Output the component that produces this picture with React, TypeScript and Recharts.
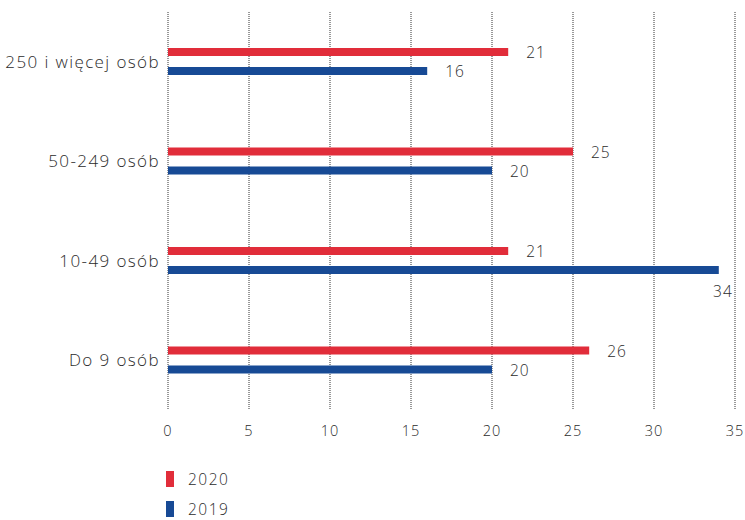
import { Bar, BarChart, CartesianGrid, LabelList, XAxis, YAxis } from "recharts";

const categories = ["250 i więcej osób", "50-249 osób", "10-49 osób", "Do 9 osób"];
const values2020 = [21, 25, 21, 26];
const values2019 = [16, 20, 34, 20];
const xTicks = [0, 5, 10, 15, 20, 25, 30, 35];

const RED = "#e12d3a";
const BLUE = "#174a95";
const TEXT = "#2b2b2b";
const FONT = "'Open Sans', 'Noto Sans', sans-serif";

const data = categories.map((name, i) => ({
  name,
  y2020: values2020[i],
  y2019: values2019[i],
}));

const PLOT_RIGHT = 735;

const labelStyle = { fill: TEXT, fontSize: 15.5, fontWeight: 300, fontFamily: FONT, letterSpacing: 1 };

// value label right of the bar, dropped below the end if it would run off the plot
const renderLabel = (props: any) => {
  const { x, y, width, height, value } = props;
  const endX = x + width;
  const midY = y + height / 2;
  if (endX + 15 + 22 > PLOT_RIGHT) {
    return (
      <text x={endX + 14} y={midY + 21} textAnchor="end" dominantBaseline="central" {...labelStyle}>
        {value}
      </text>
    );
  }
  return (
    <text x={endX + 18} y={midY} textAnchor="start" dominantBaseline="central" {...labelStyle}>
      {value}
    </text>
  );
};

const legendItems = [
  { label: "2020", color: RED },
  { label: "2019", color: BLUE },
];

const App = () => {
  return (
    <div style={{ position: "relative", width: 745, height: 520, overflow: "hidden", fontFamily: FONT }}>
      <style>{"body { margin: 0; }"}</style>
      <BarChart
        width={745}
        height={453}
        data={data}
        layout="vertical"
        margin={{ top: 12, right: 10, left: 0, bottom: 13 }}
        barSize={8}
        barGap={11}
      >
        <CartesianGrid horizontal={false} stroke="#333" strokeDasharray="1 1" />
        <XAxis
          type="number"
          domain={[0, 35]}
          ticks={xTicks}
          interval={0}
          axisLine={false}
          tickLine={false}
          tickMargin={10}
          tick={{ fill: TEXT, fontSize: 14.5, fontWeight: 300, fontFamily: FONT, letterSpacing: 1 }}
        />
        <YAxis
          type="category"
          dataKey="name"
          width={168}
          axisLine={false}
          tickLine={false}
          tick={{ fill: TEXT, fontSize: 17, fontWeight: 300, fontFamily: FONT, letterSpacing: 1.4 }}
        />
        <Bar dataKey="y2020" fill={RED} isAnimationActive={false}>
          <LabelList dataKey="y2020" content={renderLabel} />
        </Bar>
        <Bar dataKey="y2019" fill={BLUE} isAnimationActive={false}>
          <LabelList dataKey="y2019" content={renderLabel} />
        </Bar>
      </BarChart>
      <div style={{ position: "absolute", left: 166, top: 471 }}>
        {legendItems.map((item, i) => (
          <div
            key={item.label}
            style={{
              display: "flex",
              alignItems: "center",
              height: 16,
              marginTop: i === 0 ? 0 : 14,
              color: TEXT,
              fontSize: 15.5,
              lineHeight: "16px",
              fontWeight: 300,
              letterSpacing: 1.5,
            }}
          >
            <span style={{ display: "inline-block", width: 8, height: 16, background: item.color, marginRight: 14 }} />
            {item.label}
          </div>
        ))}
      </div>
    </div>
  );
};

export default App;
